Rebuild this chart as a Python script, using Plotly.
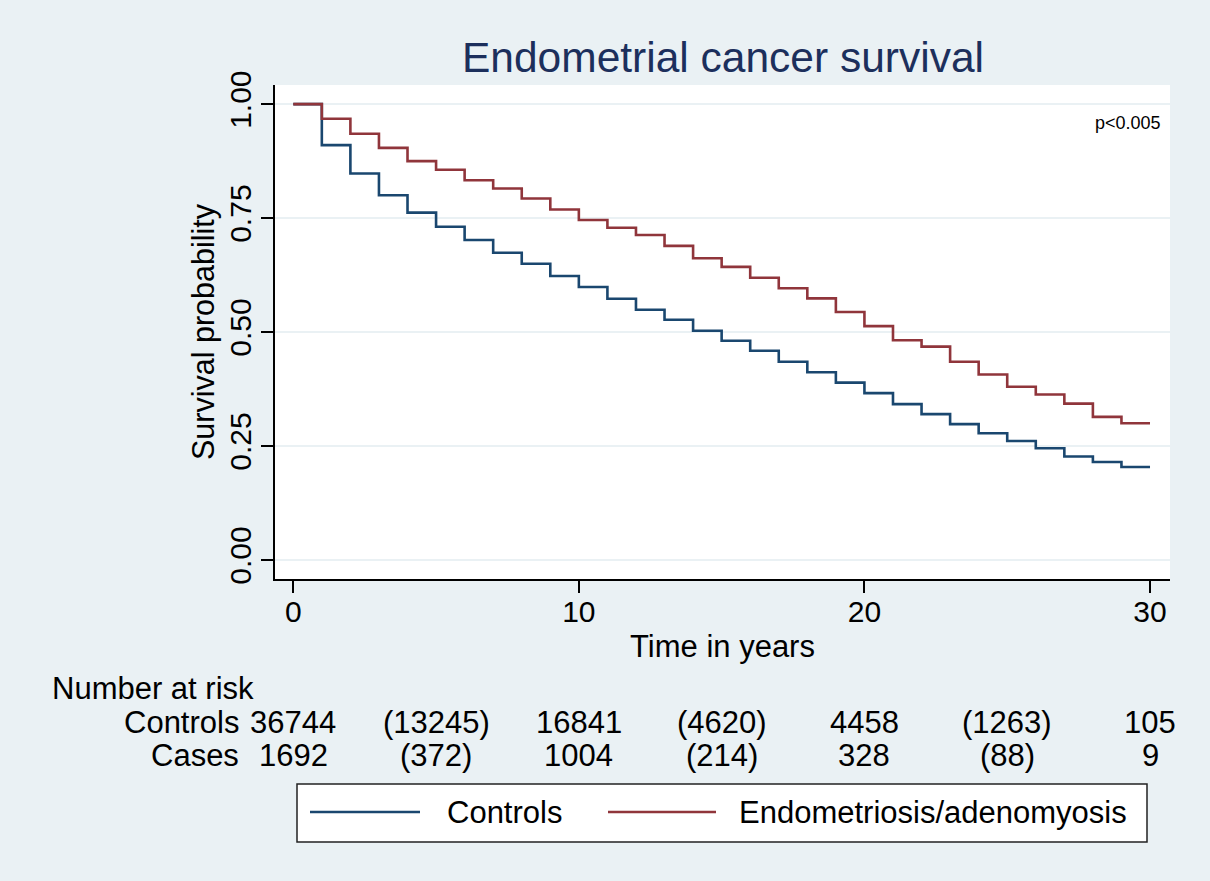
import plotly.graph_objects as go

# ---- data ----
years = list(range(0, 31))
controls_surv = [1.000, 0.910, 0.848, 0.800, 0.762, 0.731, 0.702, 0.674, 0.650, 0.623,
                 0.599, 0.573, 0.549, 0.527, 0.503, 0.481, 0.459, 0.435, 0.412, 0.389,
                 0.366, 0.342, 0.320, 0.298, 0.278, 0.261, 0.245, 0.227, 0.215, 0.204, 0.204]
cases_surv = [1.000, 0.968, 0.935, 0.904, 0.875, 0.856, 0.833, 0.815, 0.793, 0.769,
              0.746, 0.729, 0.713, 0.689, 0.662, 0.643, 0.619, 0.596, 0.574, 0.544,
              0.513, 0.482, 0.468, 0.435, 0.407, 0.380, 0.363, 0.343, 0.314, 0.300, 0.300]

risk_times = [0, 5, 10, 15, 20, 25, 30]
risk_controls = ["36744", "(13245)", "16841", "(4620)", "4458", "(1263)", "105"]
risk_cases = ["1692", "(372)", "1004", "(214)", "328", "(88)", "9"]

series_names = ["Controls", "Endometriosis/adenomyosis"]
colors = ["#1a476f", "#90353b"]

BG = "#EAF1F4"
FONT = "Liberation Sans, Arial, sans-serif"
FS = 31

fig = go.Figure()
fig.add_trace(go.Scatter(x=years, y=controls_surv, mode="lines", line_shape="hv",
                         line=dict(color=colors[0], width=2.6), name=series_names[0]))
fig.add_trace(go.Scatter(x=years, y=cases_surv, mode="lines", line_shape="hv",
                         line=dict(color=colors[1], width=2.6), name=series_names[1]))

# plot area pixel geometry
W, H = 1210, 881
L, R, T, B = 275, 40, 85, 302
pw = W - L - R
ph = H - T - B


def px_x(px):
    return (px - L) / pw


def px_y(py):
    return (H - B - py) / ph


annotations = []
# p-value
annotations.append(dict(x=30.45, y=0.958, xref="x", yref="y", text="p<0.005",
                        showarrow=False, xanchor="right", yanchor="middle",
                        font=dict(size=18, color="black", family=FONT)))
# risk table
annotations.append(dict(x=px_x(50), y=px_y(688), xref="paper", yref="paper",
                        text="Number at risk", showarrow=False, xanchor="left",
                        yanchor="middle", font=dict(size=FS, color="black", family=FONT)))
for lbl, row_y in [("Controls", 722), ("Cases", 755)]:
    annotations.append(dict(x=px_x(241), y=px_y(row_y), xref="paper", yref="paper",
                            text=lbl, showarrow=False, xanchor="right", yanchor="middle",
                            font=dict(size=FS, color="black", family=FONT)))
for t, vc, vk in zip(risk_times, risk_controls, risk_cases):
    annotations.append(dict(x=t, y=px_y(722), xref="x", yref="paper", text=vc,
                            showarrow=False, xanchor="center", yanchor="middle",
                            font=dict(size=FS, color="black", family=FONT)))
    annotations.append(dict(x=t, y=px_y(755), xref="x", yref="paper", text=vk,
                            showarrow=False, xanchor="center", yanchor="middle",
                            font=dict(size=FS, color="black", family=FONT)))

# legend (custom, drawn in paper coords)
shapes = []
shapes.append(dict(type="rect", xref="paper", yref="paper",
                   x0=px_x(297), x1=px_x(1147), y0=px_y(842), y1=px_y(784),
                   line=dict(color="#222222", width=1.5), fillcolor="white", layer="above"))
leg_y = px_y(812)
for (x0, x1, tx), name, c in zip([(310, 420, 445), (608, 716, 737)], series_names, colors):
    shapes.append(dict(type="line", xref="paper", yref="paper", x0=px_x(x0), x1=px_x(x1),
                       y0=leg_y, y1=leg_y, line=dict(color=c, width=2.6), layer="above"))
    annotations.append(dict(x=px_x(tx), y=leg_y, xref="paper", yref="paper", text=name,
                            showarrow=False, xanchor="left", yanchor="middle",
                            font=dict(size=FS, color="black", family=FONT)))

fig.update_layout(
    width=W, height=H,
    margin=dict(l=L, r=R, t=T, b=B),
    paper_bgcolor=BG, plot_bgcolor="white",
    showlegend=False,
    font=dict(family=FONT, color="black", size=FS),
    title=dict(text="Endometrial cancer survival", x=723 / W,
               xanchor="center", y=1 - 57 / H, yanchor="middle",
               font=dict(size=42.5, color="#1C2F5C", family=FONT)),
    annotations=annotations,
    shapes=shapes,
)

fig.update_xaxes(range=[-0.64, 30.7], tickvals=[0, 10, 20, 30], ticks="outside",
                 ticklen=12, tickwidth=1.5, tickcolor="black", showgrid=False,
                 zeroline=False, showline=True, linecolor="black", linewidth=1.5,
                 ticklabelstandoff=-7,
                 title=dict(text="Time in years", standoff=9, font=dict(size=FS)),
                 tickfont=dict(size=30))
fig.update_yaxes(range=[-0.0417, 1.042], tickvals=[0, 0.25, 0.5, 0.75, 1.0],
                 ticktext=["0.00", "0.25", "0.50", "0.75", "1.00"], tickangle=-90,
                 ticks="outside", ticklen=12, tickwidth=1.5, tickcolor="black",
                 showgrid=True, gridcolor=BG, gridwidth=2,
                 zeroline=False, showline=True, linecolor="black", linewidth=1.5,
                 ticklabelstandoff=-2,
                 title=dict(text="Survival probability", standoff=1, font=dict(size=30.5)),
                 tickfont=dict(size=30))

fig.write_html("out.html", config={"displayModeBar": False})

# remove default page margin so the figure fills the window
with open("out.html", "r", encoding="utf-8") as f:
    html = f.read()
html = html.replace("<head>", "<head><style>html,body{margin:0;padding:0;overflow:hidden;}</style>", 1)
with open("out.html", "w", encoding="utf-8") as f:
    f.write(html)
